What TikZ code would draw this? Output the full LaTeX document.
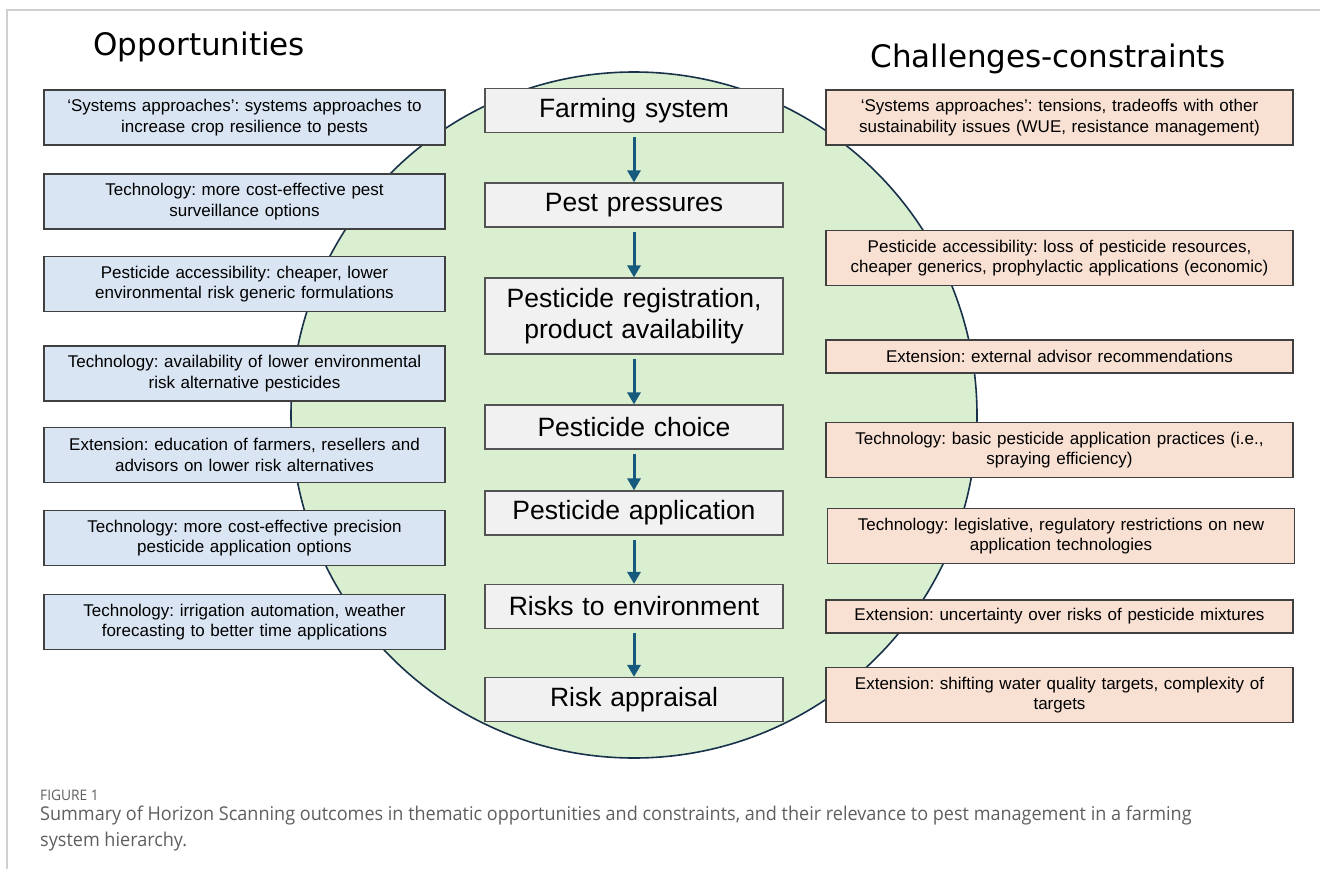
\documentclass[tikz,border=0pt]{standalone}
\usepackage{fontspec}
\setmainfont{Liberation Sans}
\newfontfamily\titlefont{DejaVu Sans}
\newfontfamily\capfont[FakeStretch=0.95]{Open Sans}
\usetikzlibrary{arrows.meta}
\frenchspacing

\definecolor{oppfill}{RGB}{218,229,243}
\definecolor{conflfill}{RGB}{248,224,211}
\definecolor{hierfill}{RGB}{241,241,241}
\definecolor{circfill}{RGB}{218,239,208}
\definecolor{circline}{RGB}{25,50,75}
\definecolor{arrowc}{RGB}{22,90,125}
\definecolor{boxline}{RGB}{64,64,64}
\definecolor{framec}{RGB}{208,208,208}
\definecolor{capc}{RGB}{95,95,95}

\tikzset{
  sidebox/.style={draw=boxline, line width=1.3pt, inner xsep=3pt, inner ysep=2pt,
    align=center, font=\fontsize{17}{20.5}\selectfont},
  oppbox/.style={sidebox, fill=oppfill, text width=395pt, minimum height=55pt},
  conbox/.style={sidebox, fill=conflfill, text width=461pt, minimum height=55pt},
  hierbox/.style={draw=boxline!90, line width=1.2pt, fill=hierfill, inner sep=2pt,
    text width=294pt, align=center, minimum height=44pt,
    font=\fontsize{26.5}{31}\selectfont},
  flow/.style={arrowc, line width=3pt, -{Triangle[length=12pt,width=13pt]},
    shorten <=4pt},
  heading/.style={anchor=base west, font=\titlefont\fontsize{31}{36}\selectfont},
}

\begin{document}
\begin{tikzpicture}[x=1pt,y=-1pt]
\useasboundingbox (0,0) rectangle (1320,868);
\fill[white] (0,0) rectangle (1320,868);

% page frame
\draw[framec, line width=1.2pt] (7,900) -- (7,10) -- (1340,10);

% background disc holding the hierarchy
\draw[fill=circfill, draw=circline, line width=1.6pt] (634,415) circle (343pt);

% headings
\node[heading] (hopp) at (90,55) {Opportunities};
\node[heading] (hcon) at (867,67) {Challenges-constraints};

% opportunities
\node[oppbox] (o1) at (244.5,117.5) {‘Systems approaches’: systems approaches to\\increase crop resilience to pests};
\node[oppbox] (o2) at (244.5,201.5) {Technology: more cost-effective pest\\surveillance options};
\node[oppbox] (o3) at (244.5,284) {Pesticide accessibility: cheaper, lower\\environmental risk generic formulations};
\node[oppbox] (o4) at (244.5,373.5) {Technology: availability of lower environmental\\risk alternative pesticides};
\node[oppbox] (o5) at (244.5,455) {Extension: education of farmers, resellers and\\advisors on lower risk alternatives};
\node[oppbox] (o6) at (244.5,538) {Technology: more cost-effective precision\\pesticide application options};
\node[oppbox] (o7) at (244.5,622) {Technology: irrigation automation, weather\\forecasting to better time applications};

% challenges and constraints
\node[conbox] (k1) at (1059.5,117.5) {‘Systems approaches’: tensions, tradeoffs with other\\sustainability issues (WUE, resistance management)};
\node[conbox] (k2) at (1059.5,258) {Pesticide accessibility: loss of pesticide resources,\\cheaper generics, prophylactic applications (economic)};
\node[conbox, minimum height=33pt] (k3) at (1059.5,356.5) {Extension: external advisor recommendations};
\node[conbox] (k4) at (1059.5,450) {Technology: basic pesticide application practices (i.e.,\\spraying efficiency)};
\node[conbox] (k5) at (1061,536) {Technology: legislative, regulatory restrictions on new\\application technologies};
\node[conbox, minimum height=33pt] (k6) at (1059.5,616.5) {Extension: uncertainty over risks of pesticide mixtures};
\node[conbox] (k7) at (1059.5,695) {Extension: shifting water quality targets, complexity of\\targets};

% farming system hierarchy
\node[hierbox] (c1) at (634,110.5) {Farming system};
\node[hierbox] (c2) at (634,205) {Pest pressures};
\node[hierbox, minimum height=76pt] (c3) at (634,316) {Pesticide registration,\\product availability};
\node[hierbox] (c4) at (634,427) {Pesticide choice};
\node[hierbox] (c5) at (634,513) {Pesticide application};
\node[hierbox] (c6) at (634,606.5) {Risks to environment};
\node[hierbox] (c7) at (634,699.5) {Risk appraisal};

\draw[flow] (c1) -- (c2);
\draw[flow] (c2) -- (c3);
\draw[flow] (c3) -- (c4);
\draw[flow] (c4) -- (c5);
\draw[flow] (c5) -- (c6);
\draw[flow] (c6) -- (c7);

% caption
\node[anchor=base west, inner sep=0, text=capc,
  font=\capfont\fontsize{14.5}{16}\selectfont] (figlabel) at (40,800) {FIGURE 1};
\node[anchor=north west, inner sep=0, text=capc, align=left,
  font=\capfont\fontsize{19}{26}\selectfont] (caption) at (40,806)
  {Summary of Horizon Scanning outcomes in thematic opportunities and constraints, and their relevance to pest management in a farming\\system hierarchy.};
\end{tikzpicture}
\end{document}
